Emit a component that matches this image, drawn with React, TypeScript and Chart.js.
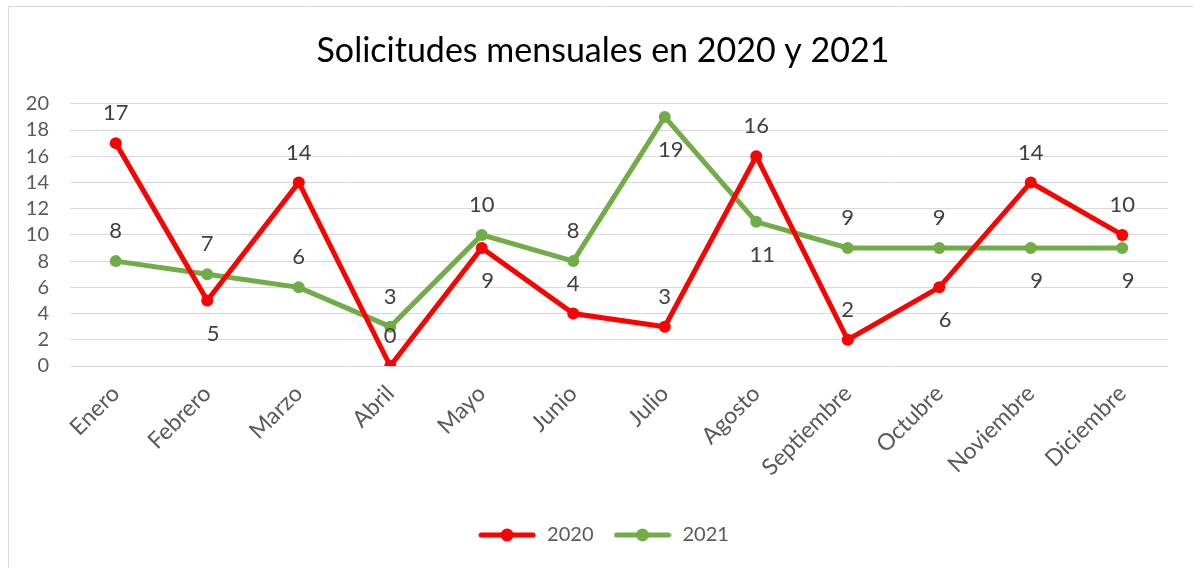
import React, { useEffect, useRef } from "react";
import { Chart, registerables } from "chart.js";

Chart.register(...registerables);

const months = [
  "Enero",
  "Febrero",
  "Marzo",
  "Abril",
  "Mayo",
  "Junio",
  "Julio",
  "Agosto",
  "Septiembre",
  "Octubre",
  "Noviembre",
  "Diciembre",
];
const values2020 = [17, 5, 14, 0, 9, 4, 3, 16, 2, 6, 14, 10];
const values2021 = [8, 7, 6, 3, 10, 8, 19, 11, 9, 9, 9, 9];
const seriesNames = ["2020", "2021"];
const titleText = "Solicitudes mensuales en 2020 y 2021";
const yMin = 0;
const yMax = 20;
const yStep = 2;

// label placement relative to the point ("top" / "bottom")
const labelSide2020 = ["top", "bottom", "top", "top", "bottom", "top", "top", "top", "top", "bottom", "top", "top"];
const labelSide2021 = ["top", "top", "top", "top", "top", "top", "bottom", "bottom", "top", "top", "bottom", "bottom"];

const RED = "#ff0000";
const GREEN = "#70ad47";
const FONT = "Lato, 'Open Sans', sans-serif";

function legendIcon(color: string): HTMLCanvasElement {
  const c = document.createElement("canvas");
  c.width = 58;
  c.height = 16;
  const ctx = c.getContext("2d")!;
  ctx.strokeStyle = color;
  ctx.lineWidth = 5;
  ctx.lineCap = "round";
  ctx.beginPath();
  ctx.moveTo(3, 8);
  ctx.lineTo(55, 8);
  ctx.stroke();
  ctx.fillStyle = color;
  ctx.beginPath();
  ctx.arc(29, 8, 6.5, 0, Math.PI * 2);
  ctx.fill();
  return c;
}

const borderPlugin = {
  id: "frameBorder",
  beforeDraw(chart: any) {
    const ctx = chart.ctx;
    ctx.save();
    ctx.fillStyle = "#ffffff";
    ctx.fillRect(0, 0, chart.width, chart.height);
    ctx.strokeStyle = "#d9d9d9";
    ctx.lineWidth = 1;
    ctx.beginPath();
    ctx.moveTo(8.5, chart.height + 2);
    ctx.lineTo(8.5, 6.5);
    ctx.lineTo(chart.width + 2, 6.5);
    ctx.stroke();
    ctx.restore();
  },
};

// centre the title and legend on the framed chart rather than the canvas
const centerShiftPlugin = {
  id: "centerShift",
  afterLayout(chart: any) {
    if (chart.titleBlock) chart.titleBlock.left = 38;
    if (chart.legend) chart.legend.left = 38;
  },
};

const dataLabelPlugin = {
  id: "pointLabels",
  afterDatasetsDraw(chart: any) {
    const ctx = chart.ctx;
    const sides = [labelSide2020, labelSide2021];
    ctx.save();
    ctx.font = `22px ${FONT}`;
    ctx.fillStyle = "#404040";
    ctx.textAlign = "center";
    ctx.textBaseline = "middle";
    chart.data.datasets.forEach((ds: any, di: number) => {
      const meta = chart.getDatasetMeta(di);
      meta.data.forEach((pt: any, i: number) => {
        const side = sides[di][i];
        const dy = side === "top" ? -30 : 33;
        const dx = side === "top" ? 0 : 6;
        ctx.fillText(String(ds.data[i]), pt.x + dx, pt.y + dy);
      });
    });
    ctx.restore();
  },
};

export default function App() {
  const ref = useRef<HTMLCanvasElement | null>(null);

  useEffect(() => {
    if (!ref.current) return;
    const icons = [legendIcon(RED), legendIcon(GREEN)];
    const chart = new Chart(ref.current, {
      type: "line",
      data: {
        labels: months,
        datasets: [
          {
            label: seriesNames[0],
            data: values2020,
            borderColor: RED,
            backgroundColor: RED,
            borderWidth: 5,
            pointRadius: 6,
            pointBorderWidth: 0,
            pointBackgroundColor: RED,
            tension: 0,
          },
          {
            label: seriesNames[1],
            data: values2021,
            borderColor: GREEN,
            backgroundColor: GREEN,
            borderWidth: 5,
            pointRadius: 6,
            pointBorderWidth: 0,
            pointBackgroundColor: GREEN,
            tension: 0,
          },
        ],
      },
      options: {
        animation: false,
        responsive: false,
        maintainAspectRatio: false,
        layout: { padding: { left: 0, right: 25, top: 0, bottom: 13 } },
        plugins: {
          title: {
            display: true,
            text: titleText,
            color: "#000000",
            font: { family: FONT, size: 34, weight: "normal" as any },
            padding: { top: 31, bottom: 32 },
          },
          legend: {
            display: true,
            position: "bottom",
            labels: {
              usePointStyle: true,
              pointStyleWidth: 60,
              padding: 19,
              color: "#595959",
              font: { family: FONT, size: 20 },
              generateLabels: (ch: any) =>
                ch.data.datasets.map((ds: any, i: number) => ({
                  text: ds.label,
                  fillStyle: ds.borderColor,
                  strokeStyle: ds.borderColor,
                  lineWidth: 0,
                  pointStyle: icons[i],
                  hidden: false,
                  datasetIndex: i,
                  fontColor: "#595959",
                })),
            },
          },
          tooltip: { enabled: false },
        },
        scales: {
          x: {
            offset: true,
            grid: { display: false, drawTicks: false },
            border: { display: false },
            ticks: {
              color: "#595959",
              font: { family: FONT, size: 23 },
              minRotation: 45,
              maxRotation: 45,
              padding: 14,
              autoSkip: false,
            },
            afterFit: (scale: any) => {
              scale.height = 140;
            },
          },
          y: {
            min: yMin,
            max: yMax,
            grid: { color: "#d9d9d9", lineWidth: 1, drawTicks: false },
            border: { display: false },
            ticks: {
              stepSize: yStep,
              autoSkip: false,
              color: "#595959",
              font: { family: FONT, size: 20 },
              padding: 21,
            },
            afterFit: (scale: any) => {
              scale.width = 70;
            },
          },
        },
      },
      plugins: [borderPlugin, centerShiftPlugin, dataLabelPlugin],
    });
    return () => chart.destroy();
  }, []);

  return (
    <div style={{ position: "fixed", left: 0, top: 0, width: 1193, height: 568 }}>
      <canvas ref={ref} width={1193} height={568} style={{ width: 1193, height: 568, display: "block" }} />
    </div>
  );
}
